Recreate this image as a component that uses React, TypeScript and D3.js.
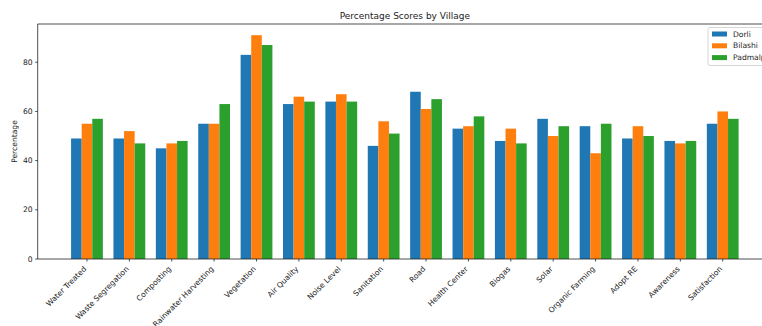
import React from "react";
import * as d3 from "d3";

const categories = [
  "Water Treated", "Waste Segregation", "Composting", "Rainwater Harvesting",
  "Vegetation", "Air Quality", "Noise Level", "Sanitation", "Road",
  "Health Center", "Biogas", "Solar", "Organic Farming", "Adopt RE",
  "Awareness", "Satisfaction",
];
const seriesNames = ["Dorli", "Bilashi", "Padmalpur"];
const dorli = [49, 49, 45, 55, 83, 63, 64, 46, 68, 53, 48, 57, 54, 49, 48, 55];
const bilashi = [55, 52, 47, 55, 91, 66, 67, 56, 61, 54, 53, 50, 43, 54, 47, 60];
const padmalpur = [57, 47, 48, 63, 87, 64, 64, 51, 65, 58, 47, 54, 55, 50, 48, 57];
const yTicks = [0, 20, 40, 60, 80];
const colors = ["#1f77b4", "#ff7f0e", "#2ca02c"];

const W = 762;
const H = 326;
const left = 37.7;
const right = 772;
const top = 24;
const bottom = 259;

export default function App() {
  const series = [dorli, bilashi, padmalpur];
  const barW = 0.25;
  const n = categories.length;
  const margin = (n - 1 + 3 * barW) * 0.05;
  const x = d3
    .scaleLinear()
    .domain([-1.5 * barW - margin, n - 1 + 1.5 * barW + margin])
    .range([left, right]);
  const maxV = d3.max(series.flat()) as number;
  const y = d3.scaleLinear().domain([0, maxV * 1.05]).range([bottom, top]);
  const fs = 7.6;
  const font = "DejaVu Sans, sans-serif";

  return (
    <svg
      width={W}
      height={H}
      style={{ position: "absolute", left: 0, top: 0, background: "#fff" }}
      fontFamily={font}
    >
      <rect x={0} y={0} width={W} height={H} fill="#fff" />
      {series.map((vals, s) =>
        vals.map((v, i) => {
          const cx = i + (s - 1) * barW;
          const x0 = x(cx - barW / 2);
          const x1 = x(cx + barW / 2);
          return (
            <rect
              key={`${s}-${i}`}
              x={x0}
              y={y(v)}
              width={x1 - x0}
              height={y(0) - y(v)}
              fill={colors[s]}
            />
          );
        })
      )}
      {/* spines */}
      <line x1={left} x2={left} y1={top} y2={bottom} stroke="#222" strokeWidth={0.8} />
      <line x1={left} x2={right} y1={bottom} y2={bottom} stroke="#222" strokeWidth={0.8} />
      <line x1={left} x2={right} y1={top} y2={top} stroke="#222" strokeWidth={0.8} />
      <line x1={right} x2={right} y1={top} y2={bottom} stroke="#222" strokeWidth={0.8} />
      {/* y ticks */}
      {yTicks.map((t) => (
        <g key={t} transform={`translate(${left},${y(t)})`}>
          <line x1={-2.5} x2={0} stroke="#222" strokeWidth={0.8} />
          <text x={-5} dy="0.35em" textAnchor="end" fontSize={fs} fill="#222">
            {t}
          </text>
        </g>
      ))}
      {/* x ticks */}
      {categories.map((c, i) => (
        <g key={c}>
          <line x1={x(i)} x2={x(i)} y1={bottom} y2={bottom + 2.5} stroke="#222" strokeWidth={0.8} />
          <text
            transform={`translate(${x(i) - 4},${bottom + 6.5}) rotate(-45)`}
            textAnchor="end"
            dominantBaseline="hanging"
            fontSize={fs}
            fill="#222"
          >
            {c}
          </text>
        </g>
      ))}
      {/* y label */}
      <text
        transform={`translate(17,${(top + bottom) / 2}) rotate(-90)`}
        textAnchor="middle"
        fontSize={fs}
        fill="#222"
      >
        Percentage
      </text>
      {/* title */}
      <text x={(left + right) / 2} y={19} textAnchor="middle" fontSize={9} fill="#222">
        Percentage Scores by Village
      </text>
      {/* legend */}
      <g>
        <rect x={708} y={27.5} width={60} height={38} rx={2} fill="#fff" fillOpacity={0.8} stroke="#ccc" strokeWidth={0.8} />
        {seriesNames.map((name, s) => (
          <g key={name} transform={`translate(712,${34 + s * 11.8})`}>
            <rect x={0} y={-2.5} width={15} height={5} fill={colors[s]} />
            <text x={21} dy="0.35em" fontSize={fs} fill="#222">
              {name}
            </text>
          </g>
        ))}
      </g>
    </svg>
  );
}
